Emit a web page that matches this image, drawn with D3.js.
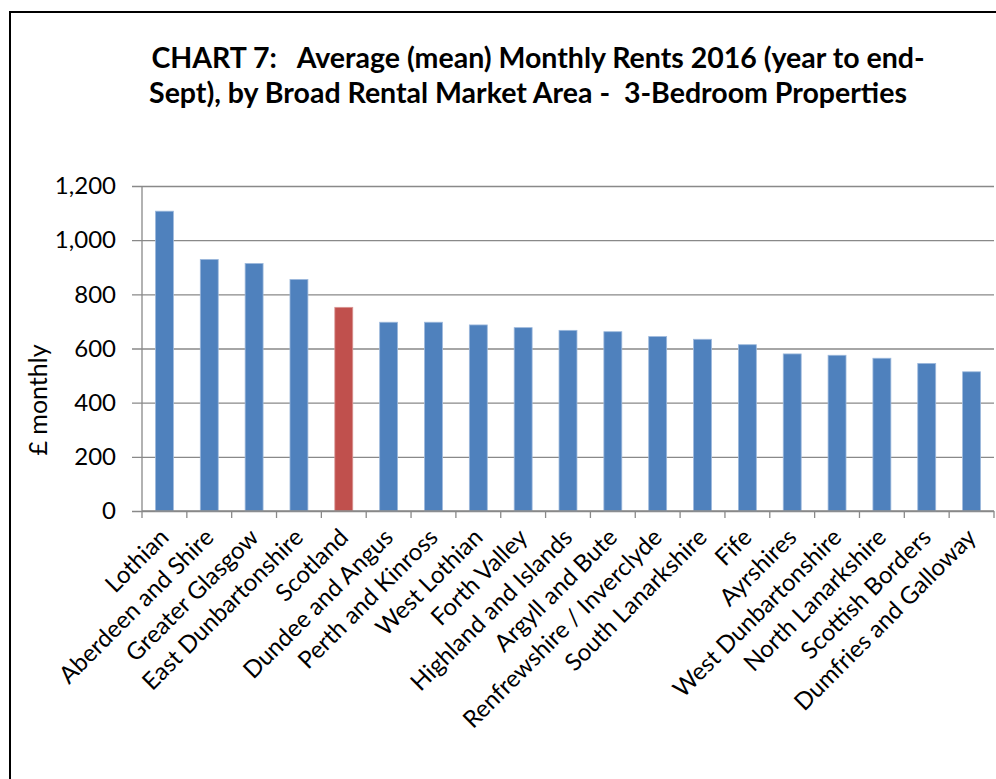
<!doctype html>
<html>
 <head>
  <meta charset='utf-8'>
  <title>Chart 7</title>
  <style>
    html,
    body{
      margin:0;
      background:white;
    }
    svg text{
      font-family:Lato,'Open Sans',sans-serif;
      fill:black;
    }
  </style>
  <script src='https://cdn.jsdelivr.net/npm/d3@7/dist/d3.min.js'></script>
 </head>
 <body>
  <div id='chart'></div>
  <script>

   /*
    * data
    */
   var areas = [
     'Lothian','Aberdeen and Shire','Greater Glasgow','East Dunbartonshire','Scotland',
     'Dundee and Angus','Perth and Kinross','West Lothian','Forth Valley','Highland and Islands',
     'Argyll and Bute','Renfrewshire / Inverclyde','South Lanarkshire','Fife','Ayrshires',
     'West Dunbartonshire','North Lanarkshire','Scottish Borders','Dumfries and Galloway'
   ]
   var rents = [
     1107, 929, 914, 855, 752,
     697, 697, 687, 677, 667,
     662, 644, 634, 614, 580,
     575, 564, 545, 514
   ]
   var yTicks = [0, 200, 400, 600, 800, 1000, 1200]
   var titleLines = [
     'CHART 7:   Average (mean) Monthly Rents 2016 (year to end-',
     'Sept), by Broad Rental Market Area -  3-Bedroom Properties'
   ]
   var highlight = 'Scotland'

   /*
    * layout
    */
   var W = 996, H = 779
   var plot = {left:142, right:994, top:186, bottom:511}

   var svg = d3.select('#chart')
     .append('svg')
     .attr('width', W)
     .attr('height', H)

   // frame
   svg.append('rect')
     .attr('x', 10).attr('y', 12)
     .attr('width', 1000).attr('height', 800)
     .attr('fill', 'white')
     .attr('stroke', 'black')
     .attr('stroke-width', 2)

   // title
   svg.append('g')
     .selectAll('text')
     .data(titleLines)
     .enter()
     .append('text')
     .attr('x', function(d, i){ return i ? 528 : 538 })
     .attr('y', function(d, i){ return i ? 103 : 68 })
     .attr('text-anchor', 'middle')
     .style('font-weight', 'bold')
     .style('font-size', '28.5px')
     .style('white-space', 'pre')
     .text(function(d){ return d })

   var x = d3.scaleBand()
     .domain(areas)
     .range([plot.left, plot.right])
     .paddingInner(0.6)
     .paddingOuter(0.3)

   var y = d3.scaleLinear()
     .domain([0, 1200])
     .range([plot.bottom, plot.top])

   /*
    * grid + y axis
    */
   var yAxis = svg.append('g')
     .attr('transform', 'translate(' + plot.left + ',0)')
     .call(d3.axisLeft(y)
       .tickValues(yTicks)
       .tickSize(-(plot.right - plot.left))
       .tickPadding(26)
       .tickFormat(d3.format(',')))
   yAxis.select('.domain').remove()
   yAxis.selectAll('.tick line')
     .attr('x1', -10)
     .attr('stroke', '#898989')
     .attr('stroke-width', 1.3)
   yAxis.selectAll('.tick text')
     .style('font-size', '24px')

   // vertical axis line
   svg.append('line')
     .attr('x1', plot.left).attr('x2', plot.left)
     .attr('y1', plot.top).attr('y2', plot.bottom)
     .attr('stroke', '#898989')
     .attr('stroke-width', 1.3)

   /*
    * bars
    */
   svg.append('g')
     .selectAll('rect')
     .data(areas)
     .enter()
     .append('rect')
     .attr('x', function(d){ return x(d) })
     .attr('width', x.bandwidth())
     .attr('y', function(d, i){ return y(rents[i]) })
     .attr('height', function(d, i){ return y(0) - y(rents[i]) })
     .attr('fill', function(d){ return d === highlight ? '#C0504D' : '#4F81BD' })
     .attr('stroke', function(d){ return d === highlight ? '#d99694' : '#9db9dc' })
     .attr('stroke-width', 0.8)

   /*
    * x axis: ticks between categories
    */
   var step = x.step()
   var bounds = d3.range(areas.length + 1).map(function(i){
     return plot.left + i * step
   })
   var xg = svg.append('g')
   xg.append('line')
     .attr('x1', plot.left).attr('x2', plot.right)
     .attr('y1', plot.bottom).attr('y2', plot.bottom)
     .attr('stroke', '#898989')
     .attr('stroke-width', 1.3)
   xg.selectAll('.tk')
     .data(bounds)
     .enter()
     .append('line')
     .attr('class', 'tk')
     .attr('x1', function(d){ return d }).attr('x2', function(d){ return d })
     .attr('y1', plot.bottom).attr('y2', plot.bottom + 7)
     .attr('stroke', '#898989')
     .attr('stroke-width', 1.3)

   xg.selectAll('.lbl')
     .data(areas)
     .enter()
     .append('text')
     .attr('class', 'lbl')
     .attr('transform', function(d){
       var cx = x(d) + x.bandwidth() / 2
       return 'translate(' + (cx - 6) + ',527) rotate(-45)'
     })
     .attr('text-anchor', 'end')
     .attr('dy', '0.7em')
     .style('font-size', '24px')
     .text(function(d){ return d })

   /*
    * y title
    */
   svg.append('text')
     .attr('transform', 'translate(47,400) rotate(-90)')
     .attr('text-anchor', 'middle')
     .style('font-size', '25px')
     .text('£ monthly')

  </script>
 </body>
</html>
